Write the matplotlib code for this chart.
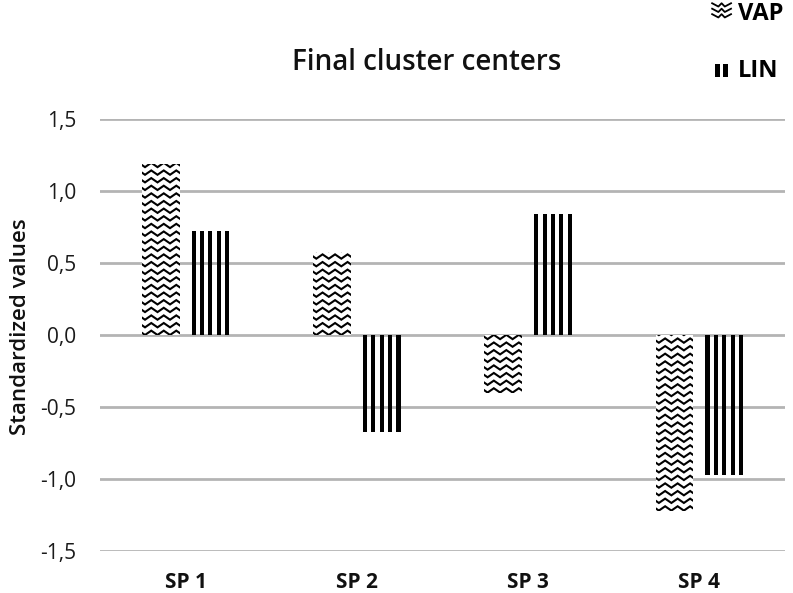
import numpy as np
import matplotlib
matplotlib.use("Agg")
import matplotlib.pyplot as plt
from matplotlib.legend_handler import HandlerBase
from matplotlib.lines import Line2D
from matplotlib.patches import Patch, Rectangle

plt.rcParams['font.family'] = ['Open Sans', 'DejaVu Sans']

categories = ['SP 1', 'SP 2', 'SP 3', 'SP 4']
vap = [1.19, 0.58, -0.40, -1.22]
lin = [0.72, -0.67, 0.84, -0.97]
yticks = [-1.5, -1.0, -0.5, 0.0, 0.5, 1.0, 1.5]
ytick_labels = ['-1,5', '-1,0', '-0,5', '0,0', '0,5', '1,0', '1,5']

fig = plt.figure(figsize=(7.93, 5.93), dpi=100)
ax = fig.add_axes([0.126, 0.0708, 0.864, 0.7282])

x = np.arange(len(categories))
w = 0.22
off = 0.145

# VAP bars: white box, zigzag lines clipped inside
vap_bars = ax.bar(x - off, vap, w, color='white', edgecolor='none', zorder=2)
half = 0.0365   # half period of zigzag (x units)
amp = 0.015     # zigzag amplitude (y units)
dy = 0.053      # row spacing
for bar, v in zip(vap_bars, vap):
    x0 = bar.get_x()
    x1 = x0 + bar.get_width()
    xs = np.arange(x0 - half * 0.5, x1 + half, half)
    zz = np.where(np.arange(len(xs)) % 2 == 0, amp, -amp)
    lo, hi = min(0, v), max(0, v)
    for y in np.arange(lo + dy * 0.3, hi + dy, dy):
        ln, = ax.plot(xs, y + zz, color='black', lw=1.5, zorder=3,
                      solid_joinstyle='miter')
        ln.set_clip_path(bar)

# LIN bars: 5 black stripes with white gaps
sw = w / 9
for k in range(5):
    ax.bar(x + off - w / 2 + sw / 2 + 2 * k * sw, lin, sw, color='black',
           edgecolor='none', zorder=3)

ax.set_xlim(-0.5, 3.5)
ax.set_ylim(-1.5, 1.5)
ax.set_yticks(yticks)
ax.set_yticklabels(ytick_labels, fontsize=15, color='#1a1a1a')
ax.set_xticks(x)
ax.set_xticklabels(categories, fontsize=15, fontweight='bold', color='#111111')
ax.tick_params(axis='y', length=0, pad=17)
ax.tick_params(axis='x', length=0, pad=15)
ax.grid(axis='y', color='#b4b4b4', lw=2)
ax.set_axisbelow(True)
for s in ax.spines.values():
    s.set_visible(False)
ax.set_ylabel('Standardized values', fontsize=16, fontweight='semibold',
              color='#111111')
ax.yaxis.set_label_coords(-0.1, 0.52)

fig.text(0.538, 0.895, 'Final cluster centers', ha='center', va='center',
         fontsize=20, fontweight='semibold', color='#111111')


class ZigHandler(HandlerBase):
    def create_artists(self, legend, orig, xd, yd, width, height, fontsize, trans):
        arts = []
        for r in range(3):
            yy = -yd + height * (0.9 - r * 0.33)
            xs = np.array([0, 0.33, 0.5, 0.67, 1.0]) * width - xd
            ys = yy + np.array([1, -1, 1, -1, 1]) * height * 0.1
            arts.append(Line2D(xs, ys, color='black', lw=1.3, transform=trans))
        return arts


class StripeHandler(HandlerBase):
    def create_artists(self, legend, orig, xd, yd, width, height, fontsize, trans):
        arts = []
        for k in range(2):
            arts.append(Rectangle((-xd + width * (0.15 + 0.45 * k), -yd),
                                  width * 0.25, height * 0.8, facecolor='black',
                                  edgecolor='none', transform=trans))
        return arts


h_vap = Patch(label='VAP')
h_lin = Patch(label='LIN')
fig.legend([h_vap, h_lin], ['VAP', 'LIN'],
           handler_map={h_vap: ZigHandler(), h_lin: StripeHandler()},
           loc='upper right', bbox_to_anchor=(0.988, 0.997), frameon=False,
           borderpad=0, borderaxespad=0,
           prop={'family': 'Open Sans', 'weight': 'bold', 'size': 17},
           handlelength=0.8, handletextpad=0.3, labelspacing=1.4)

fig.savefig('out.png', dpi=100, facecolor='white')
